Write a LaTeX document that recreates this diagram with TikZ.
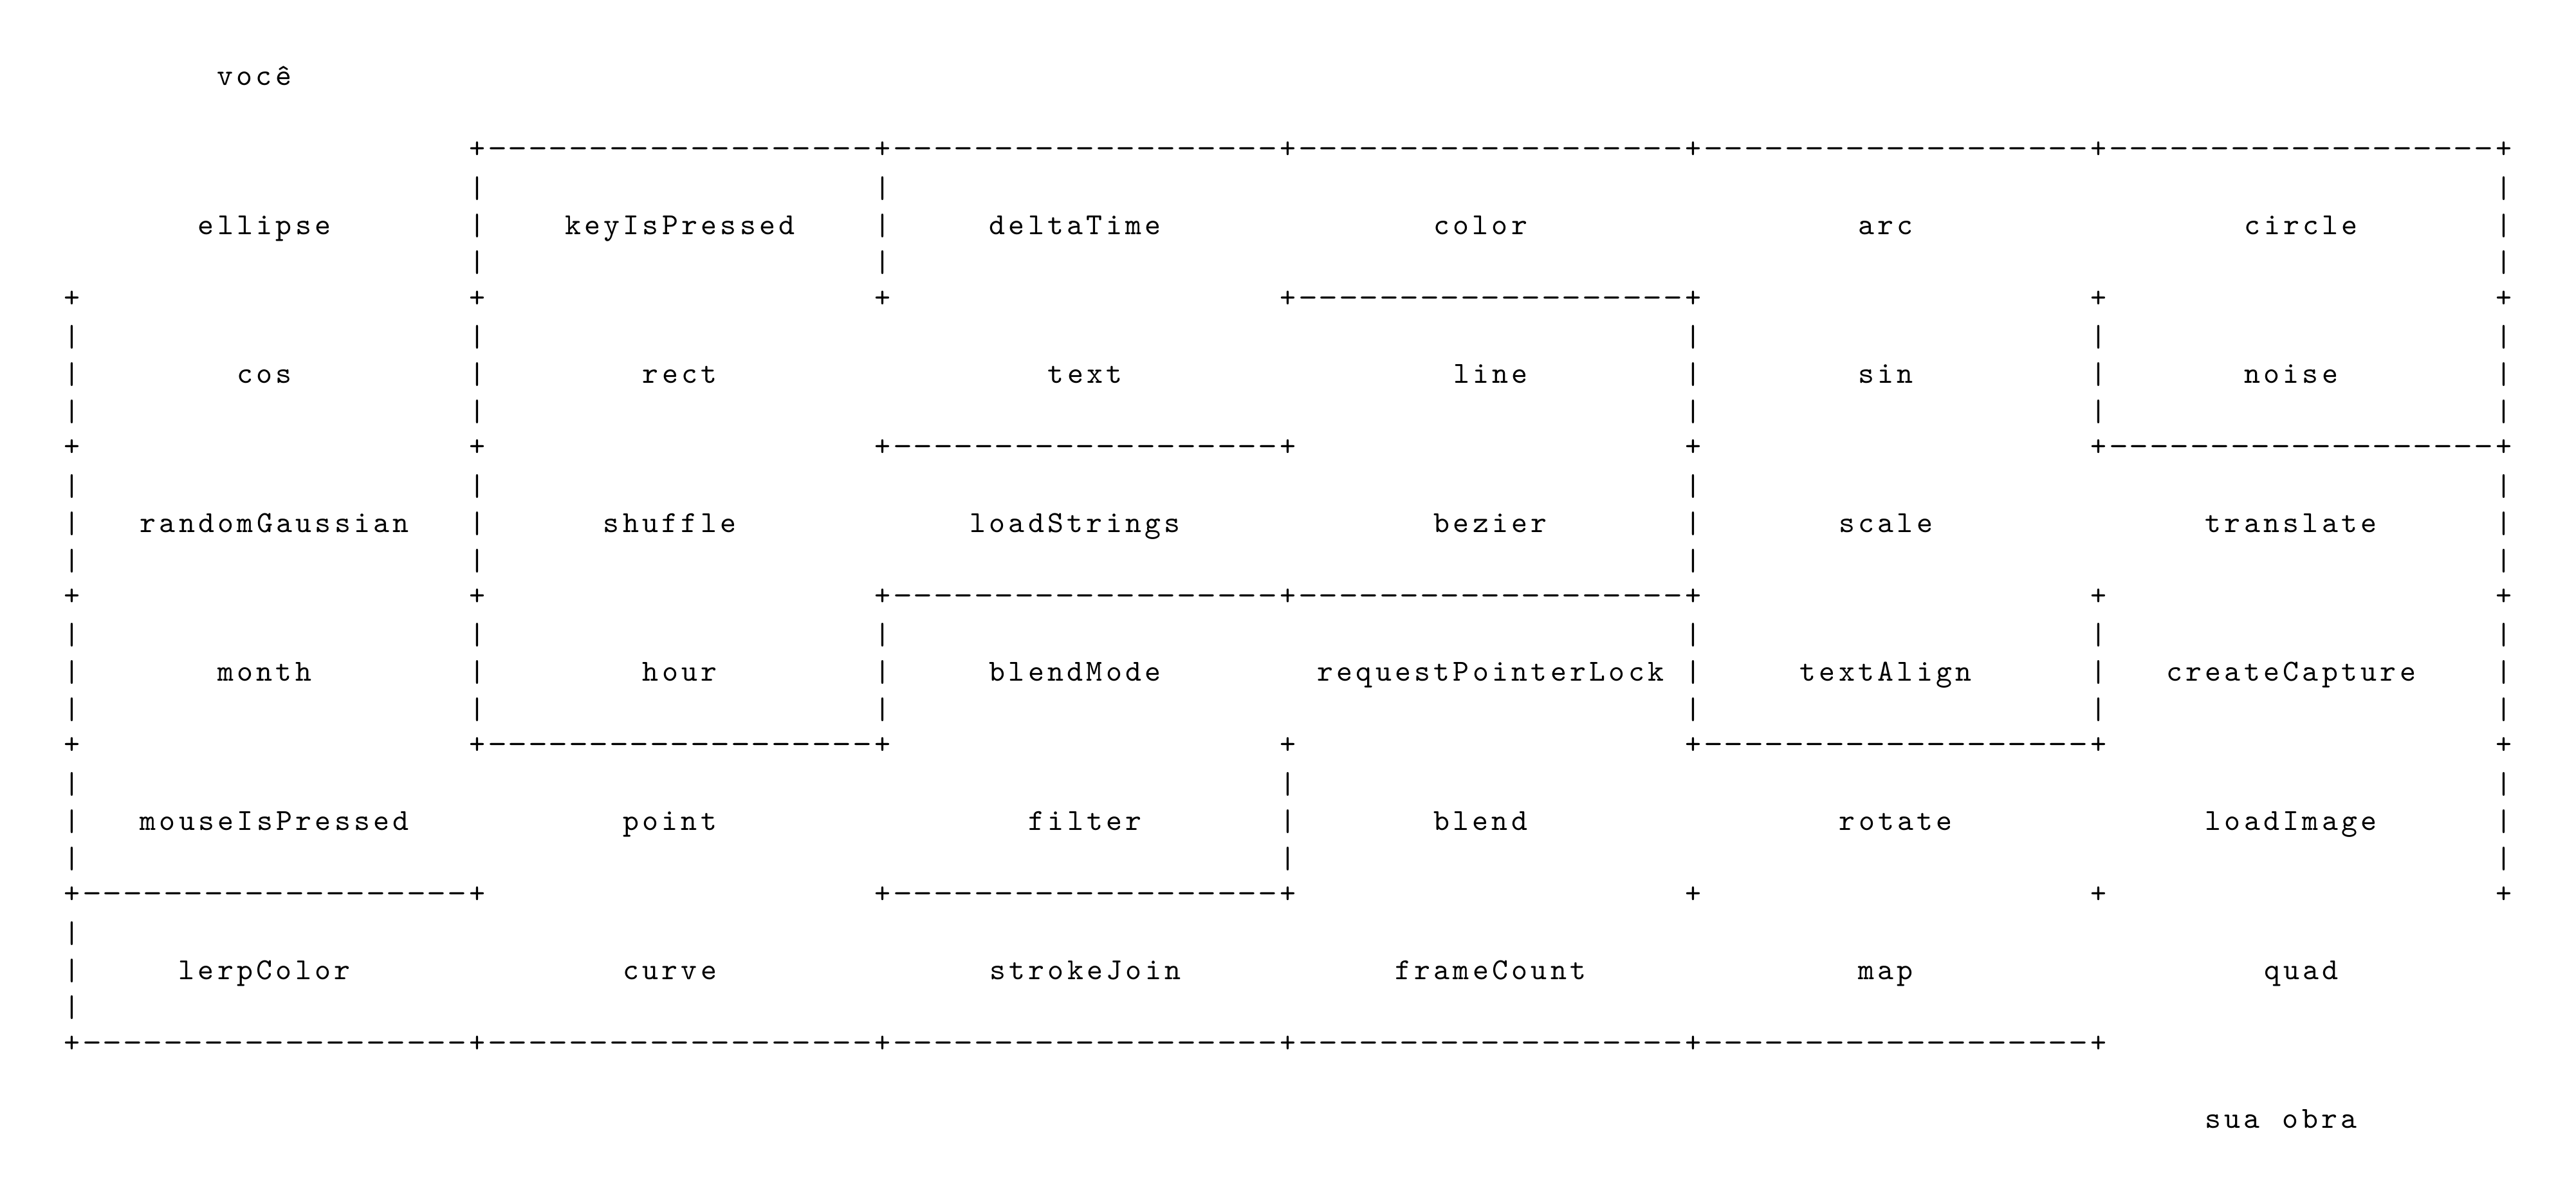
\documentclass[tikz,border=0pt]{standalone}
\usepackage{tikz}
\usepackage{graphicx}

% one character cell of the walls, and of the words
\newlength\cw
\setlength\cw{6.3pt}
\newlength\lw
\setlength\lw{0.96\cw}
\ExplSyntaxOn
\NewDocumentCommand{\mono}{m}{\tl_map_inline:nn{#1}{\makebox[\lw]{##1}}}
\NewDocumentCommand{\seg}{}{\prg_replicate:nn{19}{\makebox[\cw]{\scalebox{1.2}[1]{-}}}}
\ExplSyntaxOff

\tikzset{
    maze/.style={font=\ttfamily\fontsize{9.5pt}{11pt}\selectfont, inner sep=0pt, outer sep=0pt},
    corner/.style={maze, anchor=mid},
    wall/.style={maze, anchor=mid},
    post/.style={maze, anchor=center},
    word/.style={maze, anchor=base, yshift=-2.7pt}
}

\begin{document}
\begin{tikzpicture}[x=\cw, y=-11.58pt]

    \useasboundingbox (-3.549,-4.054) rectangle (123.56,28.04);

    % corners
    \foreach \l/\cs in {0/{20,40,...,120}, 4/{0,20,...,120}, 8/{0,20,...,120}, 12/{0,20,...,120},
                        16/{0,20,...,120}, 20/{0,20,...,120}, 24/{0,20,...,100}}
        \foreach \c in \cs
            \node[corner] at (\c,\l) {+};

    % horizontal walls
    \foreach \k/\l in {1/0, 2/0, 3/0, 4/0, 5/0, 3/4, 2/8, 5/8, 2/12, 3/12,
                       1/16, 4/16, 0/20, 2/20, 0/24, 1/24, 2/24, 3/24, 4/24}
        \node[wall] at (20*\k+10,\l) {\seg};

    % vertical walls
    \foreach \l/\cs in {1/{20,40,120}, 5/{0,20,80,100,120}, 9/{0,20,80,120},
                        13/{0,20,40,80,100,120}, 17/{0,60,120}, 21/{0}}
        \foreach \c in \cs
            \foreach \d in {0,1,2}
                \node[post] at (\c,\l+\d) {|};

    \node[word] (you) at (9,-2) {\mono{você}};

    \node[word] (ellipse) at (9.5,2) {\mono{ellipse}};
    \node[word] (keyIsPressed) at (30,2) {\mono{keyIsPressed}};
    \node[word] (deltaTime) at (49.5,2) {\mono{deltaTime}};
    \node[word] (color) at (69.5,2) {\mono{color}};
    \node[word] (arc) at (89.5,2) {\mono{arc}};
    \node[word] (circle) at (110,2) {\mono{circle}};

    \node[word] (cos) at (9.5,6) {\mono{cos}};
    \node[word] (rect) at (30,6) {\mono{rect}};
    \node[word] (text) at (50,6) {\mono{text}};
    \node[word] (line) at (70,6) {\mono{line}};
    \node[word] (sin) at (89.5,6) {\mono{sin}};
    \node[word] (noise) at (109.5,6) {\mono{noise}};

    \node[word] (randomGaussian) at (10,10) {\mono{randomGaussian}};
    \node[word] (shuffle) at (29.5,10) {\mono{shuffle}};
    \node[word] (loadStrings) at (49.5,10) {\mono{loadStrings}};
    \node[word] (bezier) at (70,10) {\mono{bezier}};
    \node[word] (scale) at (89.5,10) {\mono{scale}};
    \node[word] (translate) at (109.5,10) {\mono{translate}};

    \node[word] (month) at (9.5,14) {\mono{month}};
    \node[word] (hour) at (30,14) {\mono{hour}};
    \node[word] (blendMode) at (49.5,14) {\mono{blendMode}};
    \node[word] (requestPointerLock) at (70,14) {\mono{requestPointerLock}};
    \node[word] (textAlign) at (89.5,14) {\mono{textAlign}};
    \node[word] (createCapture) at (109.5,14) {\mono{createCapture}};

    \node[word] (mouseIsPressed) at (10,18) {\mono{mouseIsPressed}};
    \node[word] (point) at (29.5,18) {\mono{point}};
    \node[word] (filter) at (50,18) {\mono{filter}};
    \node[word] (blend) at (69.5,18) {\mono{blend}};
    \node[word] (rotate) at (90,18) {\mono{rotate}};
    \node[word] (loadImage) at (109.5,18) {\mono{loadImage}};

    \node[word] (lerpColor) at (9.5,22) {\mono{lerpColor}};
    \node[word] (curve) at (29.5,22) {\mono{curve}};
    \node[word] (strokeJoin) at (50,22) {\mono{strokeJoin}};
    \node[word] (frameCount) at (70,22) {\mono{frameCount}};
    \node[word] (map) at (89.5,22) {\mono{map}};
    \node[word] (quad) at (110,22) {\mono{quad}};

    \node[word] (work) at (109,26) {\mono{sua~obra}};

\end{tikzpicture}
\end{document}
